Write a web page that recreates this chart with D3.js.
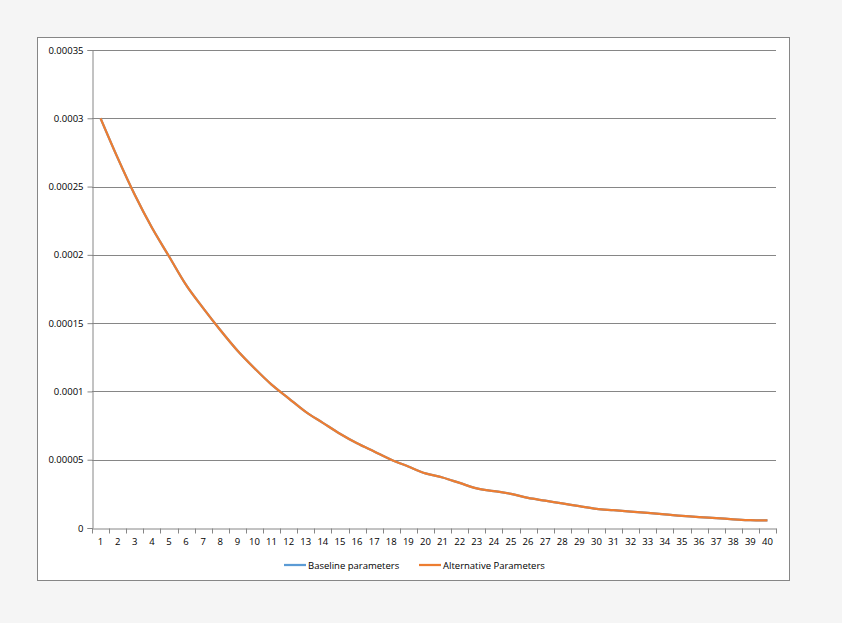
<!DOCTYPE html>
<html>
<head>
<meta charset="utf-8">
<script src="https://cdn.jsdelivr.net/npm/d3@7"></script>
<style>
  body { margin: 0; background: #f5f5f5; }
  text { font-family: "Open Sans", "DejaVu Sans", sans-serif; fill: #000; }
</style>
</head>
<body>
<div id="chart-area"></div>
<script>
// data
const periods = d3.range(1, 41).map(String);
const baseline = [
  0.000300, 0.000271, 0.000244, 0.000220, 0.000199, 0.000178, 0.000161, 0.000145, 0.000130, 0.000117,
  0.000105, 0.000095, 0.000085, 0.000077, 0.000069, 0.000062, 0.000056, 0.000050, 0.000045, 0.000040,
  0.000037, 0.000033, 0.000029, 0.000027, 0.000025, 0.000022, 0.000020, 0.000018, 0.000016, 0.000014,
  0.000013, 0.000012, 0.000011, 0.000010, 0.0000088, 0.0000079, 0.0000072, 0.0000064, 0.0000057, 0.0000055
];
const alternative = baseline.slice();
const yTicks = [0, 0.00005, 0.0001, 0.00015, 0.0002, 0.00025, 0.0003, 0.00035];
const yTickLabels = ['0', '0.00005', '0.0001', '0.00015', '0.0002', '0.00025', '0.0003', '0.00035'];
const seriesNames = ['Baseline parameters', 'Alternative Parameters'];
const colors = ['#5b9bd5', '#ed7d31'];

const W = 842, H = 623;
const margin = {left: 92, right: 66, top: 50, bottom: 95};
const width = W - margin.left - margin.right;
const height = H - margin.top - margin.bottom;

const svg = d3.select('#chart-area')
  .append('svg')
  .attr('width', W)
  .attr('height', H);

// chart frame
svg.append('rect')
  .attr('x', 37.5).attr('y', 37.5)
  .attr('width', 752).attr('height', 543)
  .attr('fill', '#fff')
  .attr('stroke', '#868686');

const g = svg.append('g')
  .attr('transform', `translate(${margin.left}, ${margin.top})`);

const x = d3.scaleBand().domain(periods).range([0, width]);
const y = d3.scaleLinear().domain([0, 0.00035]).range([height, 0]);

// gridlines
g.append('g')
  .selectAll('line')
  .data(yTicks.slice(1))
  .enter().append('line')
  .attr('x1', 0).attr('x2', width)
  .attr('y1', d => Math.round(y(d)) + 0.5)
  .attr('y2', d => Math.round(y(d)) + 0.5)
  .attr('stroke', '#868686');

// y axis
const yAxis = g.append('g')
  .attr('transform', 'translate(0.5, 0)')
  .call(d3.axisLeft(y)
    .tickValues(yTicks)
    .tickSize(5)
    .tickPadding(4)
    .tickFormat((d, i) => yTickLabels[i]));
yAxis.select('.domain').attr('stroke', '#868686');
yAxis.selectAll('.tick line').attr('stroke', '#868686');
yAxis.selectAll('text').attr('font-size', '9.5px').attr('font-family', '"Open Sans", sans-serif');

// x axis: ticks between categories
const xAxis = g.append('g')
  .attr('transform', `translate(0, ${Math.round(height) + 0.5})`)
  .call(d3.axisBottom(x).tickSize(0).tickPadding(10));
xAxis.select('.domain').attr('stroke', '#868686');
xAxis.selectAll('text').attr('font-size', '9.5px').attr('font-family', '"Open Sans", sans-serif');
xAxis.selectAll('.boundary')
  .data(d3.range(periods.length + 1))
  .enter().append('line')
  .attr('class', 'boundary')
  .attr('x1', i => Math.round(i * x.step()) + 0.5)
  .attr('x2', i => Math.round(i * x.step()) + 0.5)
  .attr('y1', 0).attr('y2', 5)
  .attr('stroke', '#868686');

// lines
const line = d3.line()
  .x((d, i) => x(periods[i]) + x.bandwidth() / 2)
  .y(d => y(d))
  .curve(d3.curveMonotoneX);

[baseline, alternative].forEach((s, i) => {
  g.append('path')
    .datum(s)
    .attr('fill', 'none')
    .attr('stroke', colors[i])
    .attr('stroke-width', 2.25)
    .attr('stroke-linejoin', 'round')
    .attr('d', line);
});

// legend
const legendX = [284, 419];
const legend = svg.append('g').attr('transform', 'translate(0, 565)');
seriesNames.forEach((name, i) => {
  legend.append('line')
    .attr('x1', legendX[i]).attr('x2', legendX[i] + 22)
    .attr('y1', 0).attr('y2', 0)
    .attr('stroke', colors[i])
    .attr('stroke-width', 2.25);
  legend.append('text')
    .attr('x', legendX[i] + 24)
    .attr('y', 3.5)
    .attr('font-size', '9.5px')
    .text(name);
});
</script>
</body>
</html>
